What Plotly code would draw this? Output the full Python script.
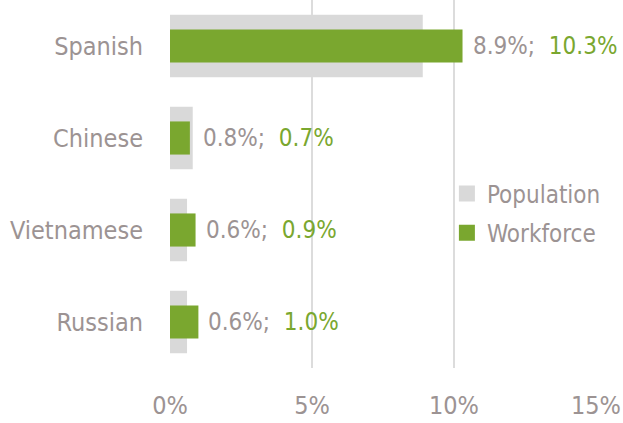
import plotly.graph_objects as go

categories = ["Spanish", "Chinese", "Vietnamese", "Russian"]
population = [8.9, 0.8, 0.6, 0.6]
workforce = [10.3, 0.7, 0.9, 1.0]
series_names = ["Population", "Workforce"]
x_ticks = [0, 5, 10, 15]
x_tick_labels = ["0%", "5%", "10%", "15%"]

GRAY_BAR = "#d9d9d9"
GREEN = "#7aa72f"
TEXT_GRAY = "#9c9393"
FONT = "DejaVu Sans Condensed, Liberation Sans Narrow, Arial Narrow, sans-serif"

fig = go.Figure()
fig.add_trace(go.Bar(
    y=categories, x=population, orientation="h", name=series_names[0],
    marker=dict(color=GRAY_BAR, line=dict(width=0)), width=0.68,
    showlegend=False,
))
fig.add_trace(go.Bar(
    y=categories, x=workforce, orientation="h", name=series_names[1],
    marker=dict(color=GREEN, line=dict(width=0)), width=0.36,
    showlegend=False,
))
# legend entries with larger square swatches
for name, col, grp in [(series_names[0], GRAY_BAR, "a"), (series_names[1], GREEN, "b")]:
    fig.add_trace(go.Scatter(
        x=[None], y=[None], mode="markers", name=name, legendgroup=grp,
        marker=dict(symbol="square", size=16, color=col, line=dict(width=0)),
        showlegend=True, hoverinfo="skip",
    ))

for cat, p, w in zip(categories, population, workforce):
    fig.add_annotation(
        x=max(p, w), y=cat, xref="x", yref="y",
        text=(f'<span style="color:{TEXT_GRAY}">{p:.1f}%;</span>&nbsp;&nbsp;'
              f'<span style="color:{GREEN}">{w:.1f}%</span>'),
        showarrow=False, xanchor="left", xshift=8,
        font=dict(family=FONT, size=24, color=TEXT_GRAY),
    )

fig.update_layout(
    width=623, height=423,
    margin=dict(l=170, r=27, t=0, b=55, autoexpand=False),
    paper_bgcolor="white", plot_bgcolor="white",
    barmode="overlay",
    font=dict(family=FONT, size=25, color=TEXT_GRAY),
    showlegend=True,
    legend=dict(
        x=0.65, y=0.42, xanchor="left", yanchor="middle",
        font=dict(family=FONT, size=24, color=TEXT_GRAY),
        bgcolor="rgba(0,0,0,0)", traceorder="grouped",
        itemwidth=30, tracegroupgap=5,
    ),
    xaxis=dict(
        range=[0, 15], tickvals=x_ticks, ticktext=x_tick_labels,
        showgrid=True, gridcolor="#dcdcdc", gridwidth=2,
        zeroline=False, showline=False, ticks="", automargin=False,
        ticklabelstandoff=20,
        tickfont=dict(family=FONT, size=25, color=TEXT_GRAY),
    ),
    yaxis=dict(
        categoryorder="array", categoryarray=categories, autorange="reversed",
        showgrid=False, zeroline=False, showline=False, ticks="", automargin=False,
        ticklabelstandoff=26,
        tickfont=dict(family=FONT, size=25, color=TEXT_GRAY),
    ),
)

fig.write_html(
    "out.html",
    config={"displayModeBar": False},
    post_script="document.body.style.margin='0';document.body.style.overflow='hidden';",
)
